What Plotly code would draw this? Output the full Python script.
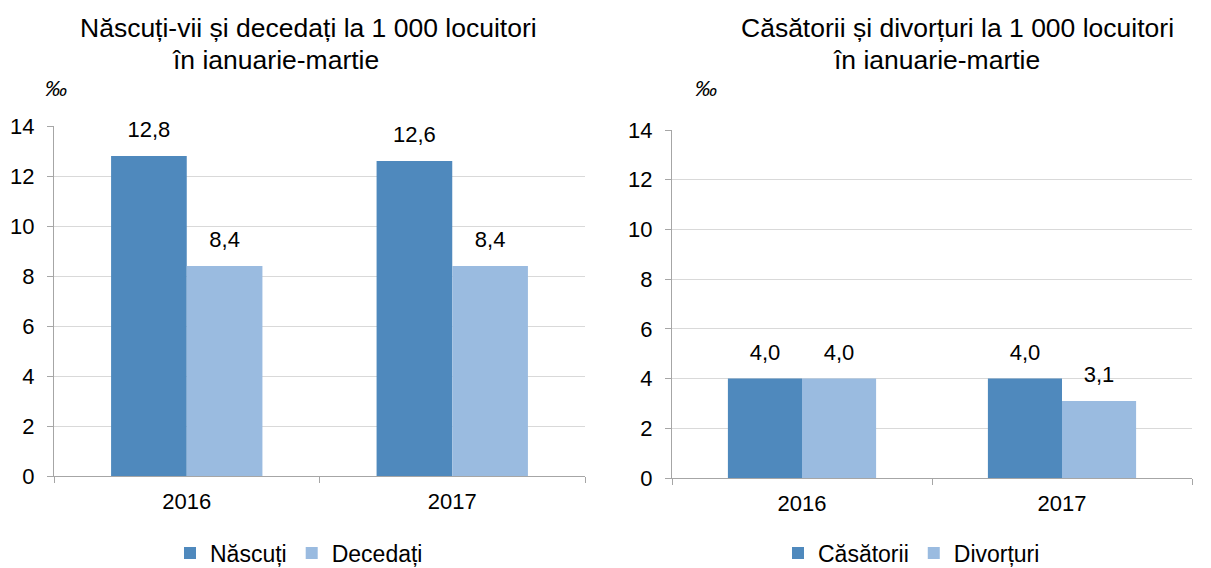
import plotly.graph_objects as go

years = ["2016", "2017"]
nascuti = [12.8, 12.6]
decedati = [8.4, 8.4]
casatorii = [4.0, 4.0]
divorturi = [4.0, 3.1]
yticks = [0, 2, 4, 6, 8, 10, 12, 14]

DARK = "#4F89BD"
LIGHT = "#9ABBE0"
FONT = "Liberation Sans, Arial, sans-serif"
# the page places the figure 8px from the top-left corner of the window
OX, OY = 8, 8
W, H = 1211 - OX, 568 - OY
GAP = 0.43


def px(x):
    return (x - OX) / W


def py(y):
    return (H - (y - OY)) / H


fig = go.Figure()


def add_bar(x, y, name, color, xa, ya, legend):
    fig.add_trace(go.Bar(
        x=x, y=y, name=name, marker=dict(color=color, line=dict(width=0)),
        xaxis=xa, yaxis=ya, legend=legend,
    ))


def add_labels(x, y, xa, ya):
    fig.add_trace(go.Scatter(
        x=x, y=y, mode="markers+text", xaxis=xa, yaxis=ya, showlegend=False,
        marker=dict(size=20, color="rgba(0,0,0,0)", line=dict(width=0)),
        text=[("%.1f" % v).replace(".", ",") for v in y],
        textposition="top center", cliponaxis=False,
        textfont=dict(size=22, color="#000000", family=FONT),
        hoverinfo="skip",
    ))


add_bar(years, nascuti, "Născuți", DARK, "x", "y", "legend")
add_bar(years, decedati, "Decedați", LIGHT, "x", "y", "legend")
add_bar(years, casatorii, "Căsătorii", DARK, "x2", "y2", "legend2")
add_bar(years, divorturi, "Divorțuri", LIGHT, "x2", "y2", "legend2")
add_labels(years, nascuti, "x", "y")
add_labels(years, decedati, "x", "y")
add_labels(years, casatorii, "x2", "y2")
add_labels(years, divorturi, "x2", "y2")


def xaxis_cfg(domain, anchor):
    return dict(domain=domain, anchor=anchor, type="category",
                showline=True, linecolor="#A6A6A6", linewidth=1,
                ticks="outside", tickson="boundaries", ticklen=6, tickcolor="#A6A6A6",
                ticklabelstandoff=6,
                tickfont=dict(size=22, color="#000000", family=FONT),
                showgrid=False, zeroline=False, fixedrange=True)


def yaxis_cfg(domain, anchor):
    return dict(domain=domain, anchor=anchor, range=[0, 14], tickvals=yticks,
                showline=True, linecolor="#A6A6A6", linewidth=1,
                ticks="outside", ticklen=6, tickcolor="#A6A6A6",
                ticklabelstandoff=8,
                tickfont=dict(size=22, color="#000000", family=FONT),
                showgrid=True, gridcolor="#D9D9D9", gridwidth=1,
                zeroline=False, fixedrange=True)


fig.update_layout(
    width=W, height=H,
    margin=dict(l=0, r=0, t=0, b=0, autoexpand=False),
    paper_bgcolor="white", plot_bgcolor="white",
    barmode="group", bargap=GAP, bargroupgap=0,
    scattermode="group", scattergap=GAP,
    font=dict(family=FONT, color="#000000"),
    xaxis=xaxis_cfg([px(54), px(585)], "y"),
    yaxis=yaxis_cfg([py(476), py(126)], "x"),
    xaxis2=xaxis_cfg([px(672), px(1192)], "y2"),
    yaxis2=yaxis_cfg([py(478), py(130)], "x2"),
    legend=dict(orientation="h", x=px(170), y=py(553), xanchor="left", yanchor="middle",
                font=dict(size=23, family=FONT), itemwidth=30, tracegroupgap=0,
                bgcolor="rgba(0,0,0,0)"),
    legend2=dict(orientation="h", x=px(778), y=py(553), xanchor="left", yanchor="middle",
                 font=dict(size=23, family=FONT), itemwidth=30, tracegroupgap=0,
                 bgcolor="rgba(0,0,0,0)"),
    showlegend=True,
)


def txt(x, y, s, size=26, italic=False):
    fig.add_annotation(x=px(x), y=py(y), xref="paper", yref="paper",
                       text=("<i>%s</i>" % s) if italic else s, showarrow=False,
                       xanchor="center", yanchor="middle",
                       font=dict(size=size, family=FONT, color="#000000"))


txt(308, 28, "Născuți-vii și decedați la 1 000 locuitori", size=26.5)
txt(275, 60, "în ianuarie-martie", size=26.5)
txt(957, 28, "Căsătorii și divorțuri la 1 000 locuitori", size=26.5)
txt(936, 60, "în ianuarie-martie", size=26.5)
txt(56, 88, "‰", size=22, italic=True)
txt(706, 88, "‰", size=22, italic=True)

fig.write_html("out.html")
